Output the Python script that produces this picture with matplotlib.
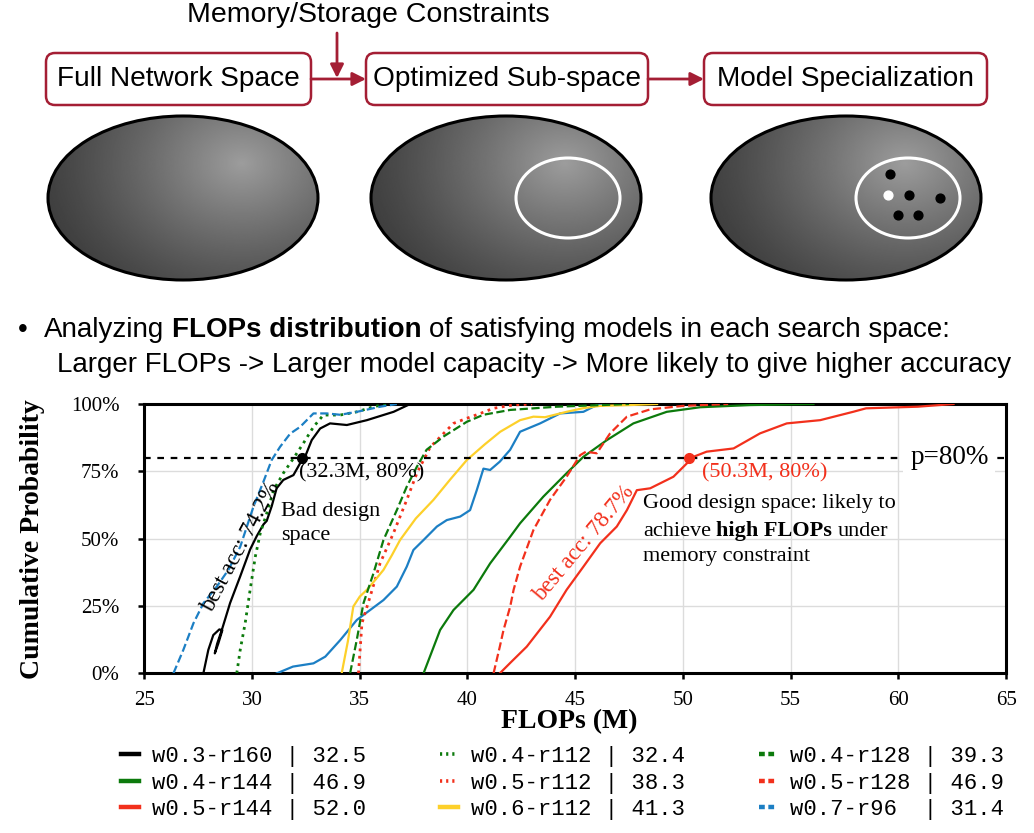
import numpy as np
import matplotlib
matplotlib.use('Agg')
import matplotlib.pyplot as plt
from matplotlib.patches import Ellipse, FancyBboxPatch
from matplotlib.font_manager import FontProperties

plt.rcParams['font.family'] = 'Liberation Serif'

# ---------------- data ----------------
# CDF of FLOPs (M) vs cumulative probability (%)
w03_r160_x = [27.74, 27.97, 28.2, 28.48, 28.62, 28.43, 28.27, 28.38, 28.62, 28.98, 29.45, 29.91,
              30.22, 30.53, 30.68, 30.91, 31.14, 31.45, 31.92, 32.23, 32.46, 32.77, 33.16, 33.62,
              34.4, 35.33, 36.57, 37.34]
w03_r160_y = [0, 8.7, 14.2, 16.3, 16.0, 11, 7.4, 11, 16.7, 26.1, 36, 46,
              51, 55.3, 56.6, 62, 68.7, 71.8, 73.6, 78, 80.4, 86.6, 90.9, 92.8,
              92.2, 94, 97.1, 100]

w04_r112_x = [29.29, 29.45, 29.68, 29.91, 30.15, 30.38, 30.68, 31.0, 31.45, 31.92, 32.38, 32.85,
              33.31, 34.09, 34.87, 35.64, 36.26]
w04_r112_y = [0, 8.7, 18.6, 31, 43.3, 52, 59.4, 68, 74.3, 79.8, 85.4, 91.5,
              95.9, 95.9, 97.1, 99, 100]

w07_r96_x = [26.35, 26.81, 27.28, 27.74, 28.36, 28.9, 29.45, 30.07, 30.53, 30.91, 31.3, 31.77,
             32.23, 32.85, 33.47, 34.09, 34.87, 35.95, 36.72]
w07_r96_y = [0, 8.7, 18.6, 26, 32.2, 38.4, 47, 62, 71.2, 79.2, 84.1, 89,
             91.5, 96.5, 96.5, 96, 97.1, 99, 100]

w04_r128_x = [34.55, 34.86, 35.17, 35.63, 36.1, 36.72, 37.18, 37.65, 38.1, 38.9, 39.97, 40.74,
              41.98, 44.15, 46.2, 47.5]
w04_r128_y = [0, 12.4, 26, 37, 49.5, 60.6, 69.3, 76.7, 83, 88, 93.4, 96,
              97.8, 99, 99.6, 100]

w05_r112_x = [34.94, 35.1, 35.48, 35.94, 36.56, 37.18, 37.65, 38.27, 39.35, 39.97, 40.6, 41.2,
              42.1, 43.0]
w05_r112_y = [0, 18.6, 28.5, 40.8, 52, 64.4, 74.3, 84, 92.8, 94.7, 96.5, 98.4,
              99.6, 100]

w06_r112_x = [34.16, 34.45, 34.7, 35.0, 35.33, 35.7, 36.1, 36.5, 36.87, 37.6, 38.42, 39.2,
              39.97, 40.8, 41.52, 42.44, 43.06, 43.6, 44.6, 45.4, 46.16, 47.5, 48.8]
w06_r112_y = [0, 12, 24.8, 28.5, 31, 34.5, 38.4, 44, 49.5, 57.5, 64.4, 72,
              79.2, 85, 89.7, 94, 95.3, 95.1, 97.1, 98.5, 99.3, 99.6, 100]

# unlabeled blue solid curve
extra_x = [31.15, 31.9, 32.85, 33.4, 34.1, 34.86, 35.48, 36.1, 36.72, 37.18, 37.49, 37.96,
           38.58, 39.04, 39.66, 40.12, 40.43, 40.74, 41.05, 41.5, 41.98, 42.44, 43.37, 44.3,
           45.38, 46.0, 46.3]
extra_y = [0, 2.5, 3.7, 6.2, 12.4, 19.8, 23.5, 27.2, 32.2, 39.6, 45.8, 49.5,
           54.5, 56.9, 58.2, 60.6, 68, 76, 75.5, 78.6, 83, 89.7, 92.8, 96.5,
           97.1, 99.6, 100]

w04_r144_x = [37.96, 38.73, 39.35, 40.28, 41.05, 41.98, 42.44, 43.52, 44.6, 45.38, 46.47, 47.7,
              49.25, 50.8, 53.1, 56.06]
w04_r144_y = [0, 16.1, 23.5, 31, 40.8, 50.7, 55.7, 65.6, 74.3, 80.4, 86.6, 92.8,
              97.1, 98.8, 99.6, 100]

w05_r128_x = [41.21, 41.5, 41.67, 41.98, 42.14, 42.44, 43.06, 43.83, 44.6, 45.23, 45.5, 46.0,
              46.62, 47.4, 48.48, 50.0, 52.1]
w05_r128_y = [0, 9.9, 16, 24.7, 31, 39.6, 53.2, 64.4, 73, 81, 82.3, 81.7,
              89.1, 95.3, 98, 99.3, 100]

w05_r144_x = [41.5, 42.0, 42.75, 43.83, 44.6, 45.38, 46.16, 46.93, 47.4, 47.86, 48.48, 49.56,
              50.49, 51.1, 52.35, 53.58, 54.82, 56.37, 57.9, 58.5, 60.9, 62.56]
w05_r144_y = [0, 4, 9.9, 21, 31, 39.6, 48.3, 54.5, 60.6, 68, 68.7, 73,
              80.4, 82.3, 83.5, 89.1, 92.8, 94, 97.1, 98.4, 99, 100]

# legend names and FLOPs at p=80%
names = ['w0.3-r160', 'w0.4-r144', 'w0.5-r144', 'w0.4-r112', 'w0.5-r112',
         'w0.6-r112', 'w0.4-r128', 'w0.5-r128', 'w0.7-r96']
flops80 = [32.5, 46.9, 52.0, 32.4, 38.3, 41.3, 39.3, 46.9, 31.4]

x_ticks = [25, 30, 35, 40, 45, 50, 55, 60, 65]
y_ticks = [0, 25, 50, 75, 100]
bad_point = (32.3, 80)
good_point = (50.3, 80)

# ---------------- styles ----------------
BLACK, GREEN, RED, YELLOW, BLUE = 'black', '#0c7a0c', '#f2301c', '#fdd02a', '#1c7fc4'
BOX_RED = '#a41e34'

fig = plt.figure(figsize=(10.34, 8.33), dpi=100)

# overlay axes in pixel coordinates for the schematic / text
ax0 = fig.add_axes([0, 0, 1, 1])
ax0.set_xlim(0, 1034)
ax0.set_ylim(833, 0)
ax0.axis('off')

SANS = 'Liberation Sans'


def rich_text(ax, x, y, parts, gap, transform=None, **kw):
    """draw text segments one after another (mixed bold/normal)"""
    if transform is None:
        transform = ax.transData
    s, w = parts[0]
    prev = ax.text(x, y, s, fontweight=w, va='bottom', ha='left', transform=transform, **kw)
    for s, w in parts[1:]:
        prev = ax.annotate(s, xy=(1, 0), xycoords=prev, xytext=(gap, 0),
                           textcoords='offset points', va='bottom', ha='left',
                           fontweight=w, **kw)
    return prev


# title arrow text
ax0.text(368, 15, 'Memory/Storage Constraints', family=SANS, fontsize=20.5,
         ha='center', va='center')

boxes = [(46, 311, 'Full Network Space'), (366, 648, 'Optimized Sub-space'),
         (704, 987, 'Model Specialization')]
for x0, x1, txt in boxes:
    p = FancyBboxPatch((x0, 53), x1 - x0, 52, boxstyle='round,pad=0,rounding_size=9',
                       fc='white', ec=BOX_RED, lw=1.8)
    ax0.add_patch(p)
    ax0.text((x0 + x1) / 2, 79, txt, family=SANS, fontsize=20.2, ha='center', va='center')

arw = dict(arrowstyle='-|>', color=BOX_RED, lw=2, mutation_scale=20, shrinkA=0, shrinkB=0)
ax0.annotate('', xy=(366, 79), xytext=(311, 79), arrowprops=arw)
ax0.annotate('', xy=(648 + 56, 79), xytext=(648, 79), arrowprops=arw)
ax0.annotate('', xy=(337, 78), xytext=(337, 33), arrowprops=arw)

# shaded ellipses
for cx in [183, 506, 846]:
    cy, w, h = 198, 270, 164
    xs = np.linspace(cx - w / 2, cx + w / 2, 300)
    ys = np.linspace(cy - h / 2, cy + h / 2, 200)
    X, Y = np.meshgrid(xs, ys)
    d = np.sqrt(((X - (cx + 59)) / 215.0) ** 2 + ((Y - (cy - 35)) / 170.0) ** 2)
    t = np.clip(1 - d, 0, 1)
    g = 0.235 + 0.38 * t ** 1.25
    e = Ellipse((cx, cy), w, h, fc='none', ec='black', lw=2.2, zorder=3)
    ax0.add_patch(e)
    im = ax0.imshow(g, cmap='gray', vmin=0, vmax=1, extent=(cx - w / 2, cx + w / 2, cy + h / 2, cy - h / 2),
                    origin='upper', aspect='auto', zorder=2, interpolation='bilinear')
    im.set_clip_path(e)

ax0.add_patch(Ellipse((568, 198), 104, 80, fc='none', ec='white', lw=2.2, zorder=4))
ax0.add_patch(Ellipse((908, 198), 104, 80, fc='none', ec='white', lw=2.2, zorder=4))
dots_x = [890, 909, 940, 898, 918]
dots_y = [174, 195, 198, 215, 215]
ax0.scatter(dots_x, dots_y, s=40, c='black', zorder=5)
ax0.scatter([888], [195], s=40, c='white', zorder=5)
ax0.set_xlim(0, 1034)
ax0.set_ylim(833, 0)

# bullet text
ax0.text(18, 343, '\u2022', family=SANS, fontsize=20, va='bottom', ha='left')
rich_text(ax0, 44, 343, [('Analyzing', 'normal'), ('FLOPs distribution', 'bold'),
                         ('of satisfying models in each search space:', 'normal')],
          gap=5.5, family=SANS, fontsize=20)
ax0.text(57, 378, 'Larger FLOPs -> Larger model capacity -> More likely to give higher accuracy',
         family=SANS, fontsize=20, va='bottom', ha='left')

# ---------------- CDF chart ----------------
ax = fig.add_axes([0.1396, 0.1917, 0.8334, 0.3233])

series = [
    (w03_r160_x, w03_r160_y, BLACK, '-'),
    (w04_r144_x, w04_r144_y, GREEN, '-'),
    (w05_r144_x, w05_r144_y, RED, '-'),
    (w04_r112_x, w04_r112_y, GREEN, ':'),
    (w05_r112_x, w05_r112_y, RED, ':'),
    (w06_r112_x, w06_r112_y, YELLOW, '-'),
    (w04_r128_x, w04_r128_y, GREEN, '--'),
    (w05_r128_x, w05_r128_y, RED, '--'),
    (w07_r96_x, w07_r96_y, BLUE, '--'),
]
ax.plot(extra_x, extra_y, color=BLUE, ls='-', lw=1.6, label='_nolegend_', zorder=3)
handles = []
for (xs, ys, c, ls), n, f in zip(series, names, flops80):
    lw = 2.0 if ls == ':' else 1.6
    hnd, = ax.plot(xs, ys, color=c, ls=ls, lw=lw, label='%-9s | %.1f' % (n, f), zorder=3)
    handles.append(hnd)

ax.axhline(80, color='black', ls=(0, (3, 3)), lw=1.6, zorder=4)
ax.plot(*bad_point, 'o', color='black', ms=7, zorder=5)
ax.plot(*good_point, 'o', color=RED, ms=7, zorder=5)

ax.set_xlim(25, 65)
ax.set_ylim(0, 100)
ax.set_xticks(x_ticks)
ax.set_yticks(y_ticks)
ax.set_yticklabels(['%d%%' % v for v in y_ticks])
ax.tick_params(labelsize=15, width=1.8, length=4, direction='out')
ax.tick_params(axis='y', pad=14)
ax.tick_params(axis='x', pad=9)
ax.grid(color='#dcdcdc', lw=1.0, zorder=0)
ax.set_axisbelow(True)
for sp in ax.spines.values():
    sp.set_linewidth(2.2)

ax.set_ylabel('Cumulative Probability', fontsize=20, fontweight='bold')
ax.yaxis.label.set_va('center')
ax.yaxis.set_label_coords(-0.130, 0.5)
ax.set_xlabel('FLOPs (M)', fontsize=20, fontweight='bold')
ax.xaxis.label.set_va('center')
ax.xaxis.set_label_coords(0.493, -0.181)

ax.text(32.18, 74.6, '(%.1fM, 80%%)' % bad_point[0], fontsize=16, va='center', ha='left', zorder=6)
ax.text(50.88, 74.6, '(%.1fM, 80%%)' % good_point[0], fontsize=16, color=RED, va='center', ha='left', zorder=6)
ax.text(29.47, 46.8, 'best acc: 74.2%', fontsize=16.5, rotation=62, ha='center', va='center', zorder=6)
ax.text(45.41, 48.3, 'best acc: 78.7%', fontsize=16.5, rotation=50, color=RED, ha='center', va='center', zorder=6)
ax.text(31.33, 63.5, 'Bad design\nspace', fontsize=16, va='top', ha='left', linespacing=1.3, zorder=6)
ax.text(60.55, 80, 'p=80%', fontsize=19.5, va='center', ha='left', zorder=6,
        bbox=dict(boxstyle='square,pad=0.25', fc='white', ec='none'))

ax.text(48.14, 59.5, 'Good design space: likely to', fontsize=16, va='bottom', ha='left', zorder=6)
rich_text(ax, 48.14, 49.3, [('achieve', 'normal'), ('high FLOPs', 'bold'), ('under', 'normal')],
          gap=4.0, fontsize=16, zorder=6)
ax.text(48.14, 40.0, 'memory constraint', fontsize=16, va='bottom', ha='left', zorder=6)

leg = fig.legend(handles, [h.get_label() for h in handles], ncol=3, loc='upper left',
                 bbox_to_anchor=(121 / 1034.0, 1 - 746 / 833.0), frameon=False,
                 prop=FontProperties(family='Liberation Mono', size=16),
                 handlelength=0.8, handletextpad=0.6, columnspacing=3.33,
                 labelspacing=0.25, borderpad=0, borderaxespad=0)
for ln, (xs, ys, c, ls) in zip(leg.get_lines(), series):
    ln.set_linewidth(3.2)
    if ls == '--':
        ln.set_linestyle((0, (1.3, 0.8)))
    elif ls == ':':
        ln.set_linewidth(2.6)
        ln.set_linestyle((0, (0.6, 1.1)))

fig.savefig('out.png', dpi=100)
